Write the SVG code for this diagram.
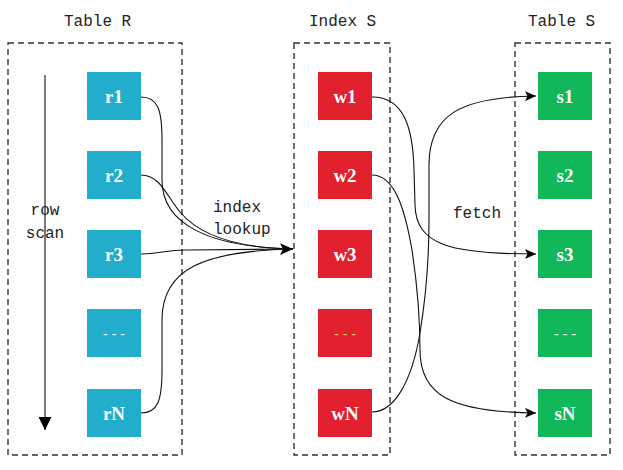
<svg xmlns="http://www.w3.org/2000/svg" width="623" height="470" viewBox="0 0 623 470">
<style>
.box{fill:none;stroke:#333;stroke-width:1.4;stroke-dasharray:6,4}
.lbl{font-family:"Liberation Mono",monospace;font-size:16px;fill:#222}
.r{fill:#21ADCB}
.w{fill:#E3202D}
.s{fill:#10B85A}
.nt{font-family:"Liberation Serif",serif;font-size:19px;font-weight:bold;fill:#fff;text-anchor:middle}
.dt{font-family:"Liberation Sans",sans-serif;font-size:14px;fill:#fff;text-anchor:middle}
.c{fill:none;stroke:#111;stroke-width:1.1}
</style>
<defs>
<marker id="ah" markerWidth="13" markerHeight="12" refX="13" refY="6" orient="auto" markerUnits="userSpaceOnUse"><path d="M0,0 L13,6 L0,12 L3,6 z" fill="#000"/></marker>
<marker id="as" markerWidth="11" markerHeight="10" refX="11" refY="5" orient="auto" markerUnits="userSpaceOnUse"><path d="M0,0 L11,5 L0,10 L2.5,5 z" fill="#000"/></marker>
<marker id="av" markerWidth="13" markerHeight="13" refX="13" refY="6.5" orient="auto" markerUnits="userSpaceOnUse"><path d="M0,0 L13,6.5 L0,13 z" fill="#000"/></marker>
</defs>
<rect width="623" height="470" fill="#fff"/>

<g id="tableR">
<text class="lbl" x="64" y="26">Table R</text>
<rect class="box" x="8" y="43" width="174" height="412"/>
</g>
<g id="indexS">
<text class="lbl" x="309" y="26">Index S</text>
<rect class="box" x="294" y="43" width="96" height="412"/>
</g>
<g id="tableS">
<text class="lbl" x="528" y="26">Table S</text>
<rect class="box" x="515" y="43" width="95" height="412"/>
</g>

<g id="rowscan">
<line x1="45" y1="75" x2="45" y2="430" stroke="#333" stroke-width="1.3" marker-end="url(#av)"/>
<text class="lbl" x="45" y="215" text-anchor="middle">row</text>
<text class="lbl" x="45" y="238" text-anchor="middle">scan</text>
</g>

<g id="r1"><rect class="r" x="87" y="72" width="54" height="48"/><text class="nt" x="114" y="103">r1</text></g>
<g id="r2"><rect class="r" x="87" y="151" width="54" height="48"/><text class="nt" x="114" y="182">r2</text></g>
<g id="r3"><rect class="r" x="87" y="230" width="54" height="48"/><text class="nt" x="114" y="261">r3</text></g>
<g id="rdots"><rect class="r" x="87" y="309" width="54" height="48"/><text class="dt" x="114" y="339">- - -</text></g>
<g id="rN"><rect class="r" x="87" y="389" width="54" height="48"/><text class="nt" x="114" y="420">rN</text></g>

<g id="w1"><rect class="w" x="318" y="72" width="54" height="48"/><text class="nt" x="345" y="103">w1</text></g>
<g id="w2"><rect class="w" x="318" y="151" width="54" height="48"/><text class="nt" x="345" y="182">w2</text></g>
<g id="w3"><rect class="w" x="318" y="230" width="54" height="48"/><text class="nt" x="345" y="261">w3</text></g>
<g id="wdots"><rect class="w" x="318" y="309" width="54" height="48"/><text class="dt" x="345" y="339" fill="#F7D070" style="fill:#F7D070">- - -</text></g>
<g id="wN"><rect class="w" x="318" y="389" width="54" height="48"/><text class="nt" x="345" y="420">wN</text></g>

<g id="s1"><rect class="s" x="538" y="72" width="54" height="48"/><text class="nt" x="565" y="103">s1</text></g>
<g id="s2"><rect class="s" x="538" y="151" width="54" height="48"/><text class="nt" x="565" y="182">s2</text></g>
<g id="s3"><rect class="s" x="538" y="230" width="54" height="48"/><text class="nt" x="565" y="261">s3</text></g>
<g id="sdots"><rect class="s" x="538" y="309" width="54" height="48"/><text class="dt" x="565" y="339">- - -</text></g>
<g id="sN"><rect class="s" x="538" y="389" width="54" height="48"/><text class="nt" x="565" y="420">sN</text></g>

<g id="connectors">
<path class="c" d="M141,97 C158,97 162,110 162,140 L162,180 C162,225 210,247 293,249"/>
<path class="c" d="M141,175 C160,175 166,195 180,212 C200,236 240,248 293,249"/>
<path class="c" d="M141,413 C158,413 162,400 162,370 L162,320 C162,268 205,251 293,249"/>
<path class="c" d="M141,254 C160,254 165,250 185,250 L293,249" marker-end="url(#ah)"/>
<text class="lbl" x="213" y="212">index</text>
<text class="lbl" x="213" y="234">lookup</text>

<path class="c" d="M372,97 C405,97 413,130 414,170 L415,205 C416,245 450,254 536,254" marker-end="url(#as)"/>
<path class="c" d="M372,175 C395,175 405,210 412,250 C418,290 420,320 420,350 C420,395 450,412 536,413" marker-end="url(#as)"/>
<path class="c" d="M372,412 C395,412 412,380 420,333 C427,290 429,260 429,220 L429,165 C429,115 460,97 536,96" marker-end="url(#as)"/>
<text class="lbl" x="453" y="218">fetch</text>
</g>
</svg>
